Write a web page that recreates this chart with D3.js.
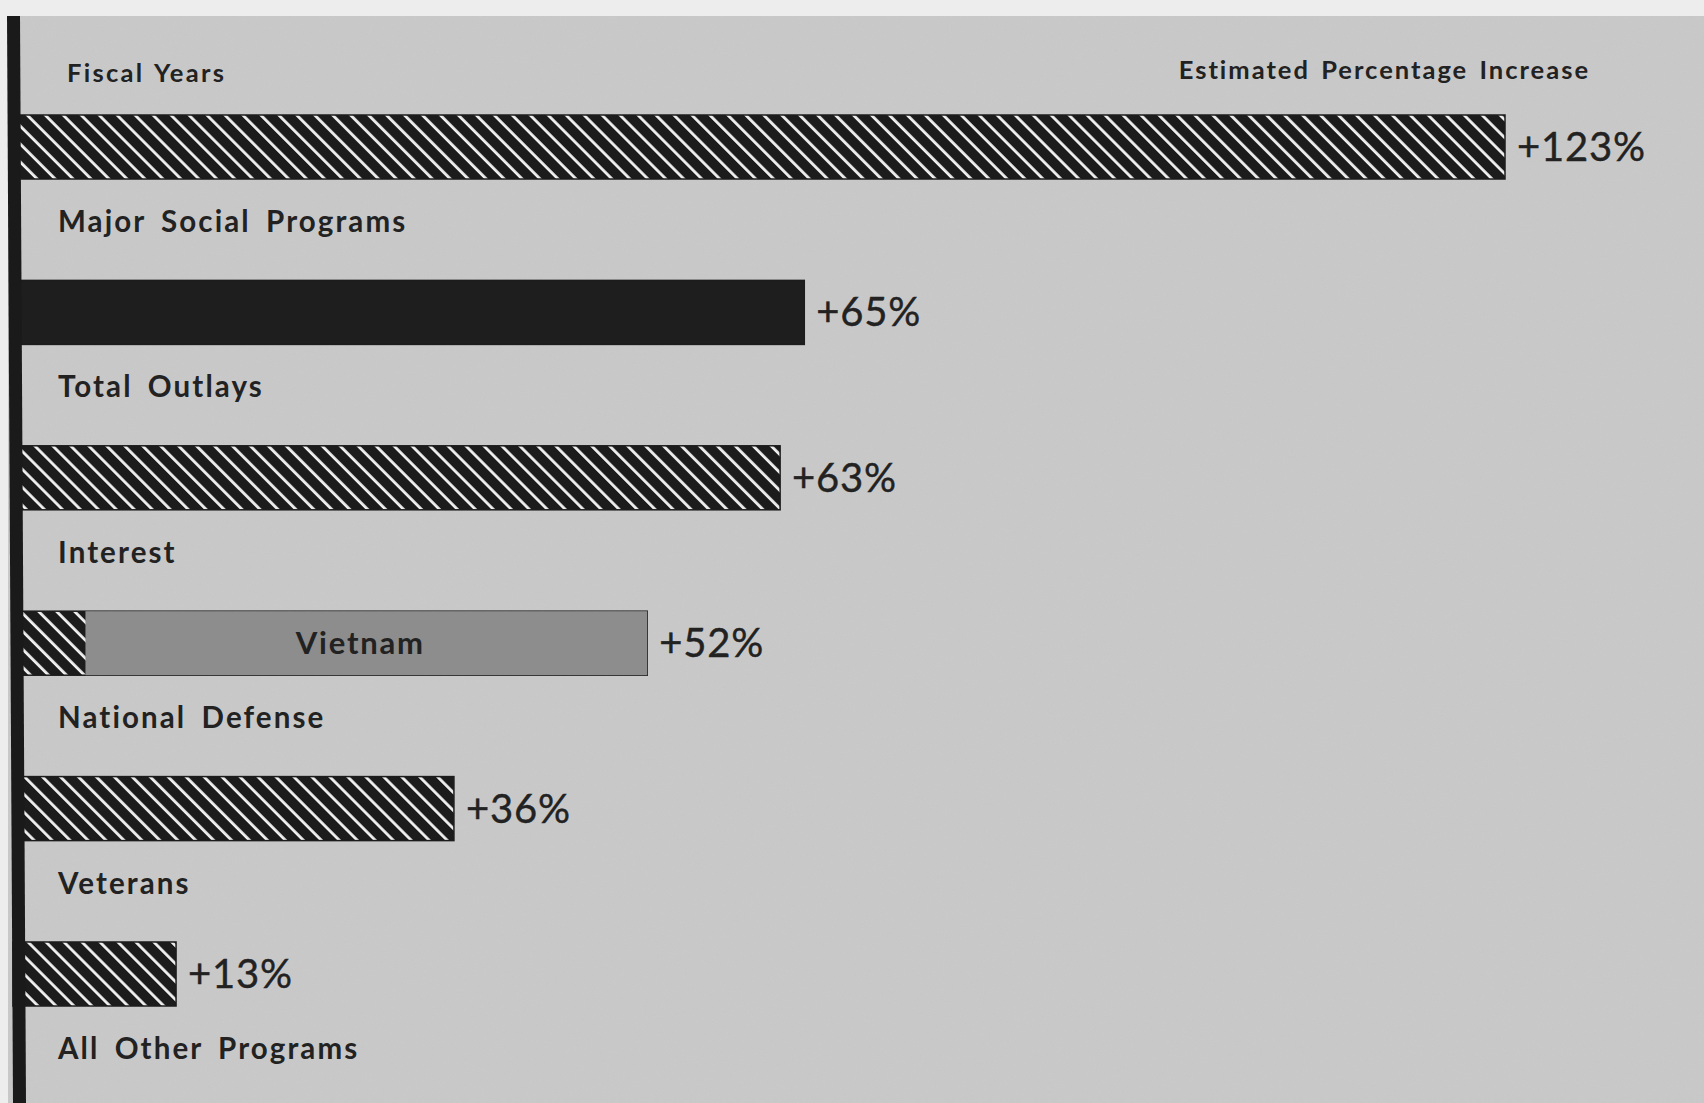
<!DOCTYPE html>
<html>
<head>
<meta charset="utf-8">
<script src="https://cdn.jsdelivr.net/npm/d3@7"></script>
<style>
  html, body { margin: 0; padding: 0; background: #ececec; }
  svg { display: block; }
  text { font-family: Lato, "Open Sans", sans-serif; fill: #222; }
</style>
</head>
<body>
<svg id="chart" width="1704" height="1103"></svg>
<script>
// ---- data ----
const categories = ["Major Social Programs", "Total Outlays", "Interest", "National Defense", "Veterans", "All Other Programs"];
const increases = [123, 65, 63, 52, 36, 13];
const barStyles = ["hatch", "solid", "hatch", "hatch", "hatch", "hatch"];
const vietnamPart = [0, 0, 0, 46.5, 0, 0];
const valueLabels = ["+123%", "+65%", "+63%", "+52%", "+36%", "+13%"];
const headerLeft = "Fiscal Years";
const headerRight = "Estimated Percentage Increase";
const segmentLabel = "Vietnam";

// ---- layout ----
const W = 1704, H = 1103;
const svg = d3.select("#chart");

const defs = svg.append("defs");
const pat = defs.append("pattern")
  .attr("id", "hatch")
  .attr("patternUnits", "userSpaceOnUse")
  .attr("width", 12.7).attr("height", 12.7)
  .attr("patternTransform", "rotate(-45)");
pat.append("rect").attr("width", 12.7).attr("height", 12.7).attr("fill", "#1c1c1c");
pat.append("rect").attr("x", 0).attr("width", 2.8).attr("height", 12.7).attr("fill", "#f0f0f0");

// paper noise
const filt = defs.append("filter").attr("id", "noise").attr("x", 0).attr("y", 0).attr("width", "100%").attr("height", "100%");
filt.append("feTurbulence").attr("type", "fractalNoise").attr("baseFrequency", 0.9).attr("numOctaves", 2).attr("seed", 3).attr("result", "t");
filt.append("feColorMatrix").attr("type", "matrix")
  .attr("values", "0 0 0 0 0.5  0 0 0 0 0.5  0 0 0 0 0.5  0 0 0 0.16 0");

// background panel
svg.append("rect").attr("x", 0).attr("y", 0).attr("width", W).attr("height", H).attr("fill", "#ededed");
svg.append("rect").attr("x", 8).attr("y", 16).attr("width", W - 8).attr("height", H - 16).attr("fill", "#c9c9c9");
svg.append("rect").attr("x", 8).attr("y", 16).attr("width", W - 8).attr("height", H - 16).attr("filter", "url(#noise)").attr("opacity", 0.8);

const x = d3.scaleLinear().domain([0, 123]).range([19, 1505]);
const y = d3.scaleBand().domain(categories).range([115, 1006]).paddingInner(0.613).paddingOuter(0);

const rows = categories.map((c, i) => ({
  cat: c, v: increases[i], style: barStyles[i], viet: vietnamPart[i], label: valueLabels[i]
}));

const g = svg.append("g");

// bars
g.selectAll("rect.bar").data(rows).enter().append("rect")
  .attr("class", "bar")
  .attr("x", x(0) - 6)
  .attr("y", d => y(d.cat))
  .attr("width", d => x(d.v) - x(0) + 6)
  .attr("height", y.bandwidth())
  .attr("fill", d => d.style === "solid" ? "#1e1e1e" : "url(#hatch)")
  .attr("stroke", "#1c1c1c").attr("stroke-width", 1.5);

// Vietnam segment
const vrows = rows.filter(d => d.viet > 0);
g.selectAll("rect.viet").data(vrows).enter().append("rect")
  .attr("class", "viet")
  .attr("x", d => x(d.v - d.viet))
  .attr("y", d => y(d.cat))
  .attr("width", d => x(d.v) - x(d.v - d.viet))
  .attr("height", y.bandwidth())
  .attr("fill", "#8d8d8d");
g.selectAll("text.viet").data(vrows).enter().append("text")
  .attr("class", "viet")
  .attr("x", d => (x(d.v) + x(d.v - d.viet)) / 2 - 6)
  .attr("y", d => y(d.cat) + y.bandwidth() / 2 + 11)
  .attr("text-anchor", "middle")
  .attr("font-size", 31)
  .attr("font-weight", 700)
  .attr("letter-spacing", 1.8)
  .text(segmentLabel);

// value labels
g.selectAll("text.val").data(rows).enter().append("text")
  .attr("class", "val")
  .attr("x", d => x(d.v) + 12)
  .attr("y", d => y(d.cat) + y.bandwidth() / 2 + 14)
  .attr("font-size", 40)
  .attr("letter-spacing", 0.8)
  .attr("stroke", "#222").attr("stroke-width", 0.4)
  .text(d => d.label);

// category labels
g.selectAll("text.cat").data(rows).enter().append("text")
  .attr("class", "cat")
  .attr("x", 58)
  .attr("y", d => y(d.cat) + y.bandwidth() + 53)
  .attr("font-size", 29.5)
  .attr("font-weight", 700)
  .attr("letter-spacing", 2.1)
  .attr("word-spacing", 6)
  .text(d => d.cat);

// headers
svg.append("text").attr("x", 67).attr("y", 82).attr("font-size", 25.5).attr("font-weight", 700).attr("letter-spacing", 2.3).attr("word-spacing", 2).text(headerLeft);
svg.append("text").attr("x", 1590).attr("y", 79).attr("text-anchor", "end").attr("font-size", 25.5).attr("font-weight", 700).attr("letter-spacing", 2.0).attr("word-spacing", 3).text(headerRight);

// vertical axis line (slightly skewed as in the print)
svg.append("path")
  .attr("d", `M7,16 L20,16 L26,${H} L13,${H} Z`)
  .attr("fill", "#1a1a1a");
</script>
</body>
</html>
